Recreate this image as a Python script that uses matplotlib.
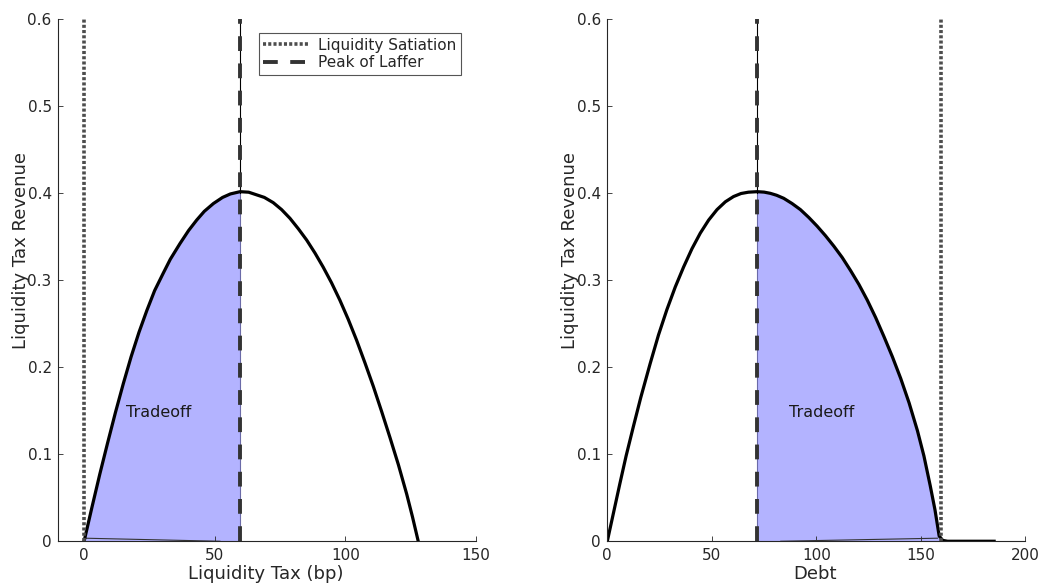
import matplotlib
matplotlib.use("Agg")
import matplotlib.pyplot as plt

# ── data ──────────────────────────────────────────────────────────────────────
tax_bp = [0, 3, 6, 9, 12, 15, 18, 21, 24, 27, 30.3, 33, 36.7, 40, 43.1, 46,
          49.5, 53, 56, 59.7, 63, 66, 69, 72.4, 75.6, 78.8, 82, 85.2, 88.4,
          91.5, 94.7, 97.9, 101.1, 104.3, 107.5, 110.7, 113.9, 117.1, 120.3,
          123.5, 125.7, 127.9]
rev_tax = [0, 0.039, 0.077, 0.113, 0.148, 0.181, 0.212, 0.240, 0.265, 0.288,
           0.308, 0.324, 0.342, 0.357, 0.369, 0.379, 0.388, 0.395, 0.399,
           0.4016, 0.401, 0.398, 0.395, 0.389, 0.381, 0.371, 0.359, 0.346,
           0.331, 0.315, 0.297, 0.277, 0.255, 0.231, 0.205, 0.178, 0.149,
           0.119, 0.088, 0.054, 0.028, 0]

debt = [0, 3, 6, 9, 12.5, 16, 20.5, 24.5, 28.5, 32.5, 36.5, 40.5, 44.5, 48.5,
        52.5, 56.5, 60.4, 64, 67.5, 71.7, 75, 78, 81, 84.4, 88.4, 92.4, 96.4,
        100.4, 104.4, 108.4, 112.4, 116.4, 120.4, 124.4, 128.4, 132.4, 136.4,
        140.4, 144.4, 148.4, 151.5, 154.5, 156.8, 158.8, 160.5, 162.8, 185.1]
rev_debt = [0, 0.033, 0.066, 0.098, 0.132, 0.165, 0.204, 0.237, 0.266, 0.292,
            0.315, 0.336, 0.354, 0.369, 0.381, 0.390, 0.396, 0.3995, 0.401,
            0.4016, 0.4011, 0.3997, 0.3975, 0.394, 0.388, 0.381, 0.372, 0.362,
            0.351, 0.339, 0.326, 0.311, 0.295, 0.277, 0.257, 0.235, 0.212,
            0.187, 0.159, 0.127, 0.098, 0.064, 0.036, 0.006, 0.001, 0, 0]

satiation_tax = 0
peak_tax = 59.7
satiation_debt = 159.8
peak_debt = 71.7
fill_end_debt = 158.8

# small baseline artefacts of the filled patch
base_tax, base_tax_rev = [0.4, 52], [0.0035, 0]
base_debt, base_debt_rev = [83, 158], [0, 0.0035]

yticks = [0, 0.1, 0.2, 0.3, 0.4, 0.5, 0.6]
ytick_labels = ["0", "0.1", "0.2", "0.3", "0.4", "0.5", "0.6"]

# ── style ─────────────────────────────────────────────────────────────────────
plt.rcParams.update({
    'font.family': 'DejaVu Sans',
    'font.size': 11,
    'axes.spines.top': False,
    'axes.spines.right': False,
    'axes.edgecolor': '#262626',
    'axes.linewidth': 0.8,
    'xtick.color': '#262626',
    'ytick.color': '#262626',
    'xtick.direction': 'in',
    'ytick.direction': 'in',
})

fill_col = '#b3b3ff'
dash_col = '#333333'
dot_col = '#4d4d4d'
dashed = (0, (3.8, 3.2))
dotted = (0, (0.85, 0.6))

fig = plt.figure(figsize=(10.39, 5.84), dpi=100)
ax1 = fig.add_axes([0.0558, 0.0732, 0.4023, 0.8943])
ax2 = fig.add_axes([0.5845, 0.0732, 0.4023, 0.8943])


def draw_panel(ax, x, y, peak, satiation, lo, hi, base_x, base_y):
    inside = [lo <= v <= hi for v in x]
    ax.fill_between(x, y, 0, where=inside, color=fill_col, linewidth=0)
    ax.plot(base_x, base_y, color='#333333', lw=0.8)
    # thin edge of the patch at the peak
    ax.plot([peak, peak], [0, 0.4], color='#6a6aa8', lw=0.8)
    ax.plot([peak, peak], [0.4, 0.6], color='black', lw=0.8)
    ax.plot(x, y, color='black', lw=2.3, solid_joinstyle='round')
    l1, = ax.plot([satiation, satiation], [0, 0.6], color=dot_col, lw=2.6,
                  linestyle=dotted, label="Liquidity Satiation")
    l2, = ax.plot([peak, peak], [0, 0.6], color=dash_col, lw=2.8,
                  linestyle=dashed, label="Peak of Laffer")
    ax.set_ylim(0, 0.6)
    ax.set_yticks(yticks)
    ax.set_yticklabels(ytick_labels)
    ax.tick_params(length=3.6, width=0.6, labelsize=11, pad=4.5)
    ax.set_ylabel("Liquidity Tax Revenue", fontsize=13, color='#262626')
    ax.yaxis.set_label_coords(-0.068, 0.556)
    return l1, l2


l1, l2 = draw_panel(ax1, tax_bp, rev_tax, peak_tax, satiation_tax,
                    0, peak_tax, base_tax, base_tax_rev)
ax1.set_xlim(-10, 150)
ax1.set_xticks([0, 50, 100, 150])
ax1.set_xlabel("Liquidity Tax (bp)", fontsize=13, color='#262626')
ax1.xaxis.set_label_coords(0.498, -0.045)
ax1.text(28.4, 0.148, "Tradeoff", ha='center', va='center', fontsize=11.5,
         color='#1a1a1a')
leg = ax1.legend(handles=[l1, l2], loc='upper right',
                 bbox_to_anchor=(0.964, 0.973), borderaxespad=0,
                 fontsize=11, handlelength=3.1, handletextpad=0.5,
                 labelspacing=0.15, borderpad=0.3, fancybox=False,
                 framealpha=1, edgecolor='#555555')
leg.get_frame().set_linewidth(0.8)
for t in leg.get_texts():
    t.set_color('#262626')

draw_panel(ax2, debt, rev_debt, peak_debt, satiation_debt,
           peak_debt, fill_end_debt, base_debt, base_debt_rev)
ax2.set_xlim(0, 200)
ax2.set_xticks([0, 50, 100, 150, 200])
ax2.set_xlabel("Debt", fontsize=13, color='#262626')
ax2.xaxis.set_label_coords(0.498, -0.045)
ax2.text(102.4, 0.148, "Tradeoff", ha='center', va='center', fontsize=11.5,
         color='#1a1a1a')

plt.savefig("out.png", dpi=100)
